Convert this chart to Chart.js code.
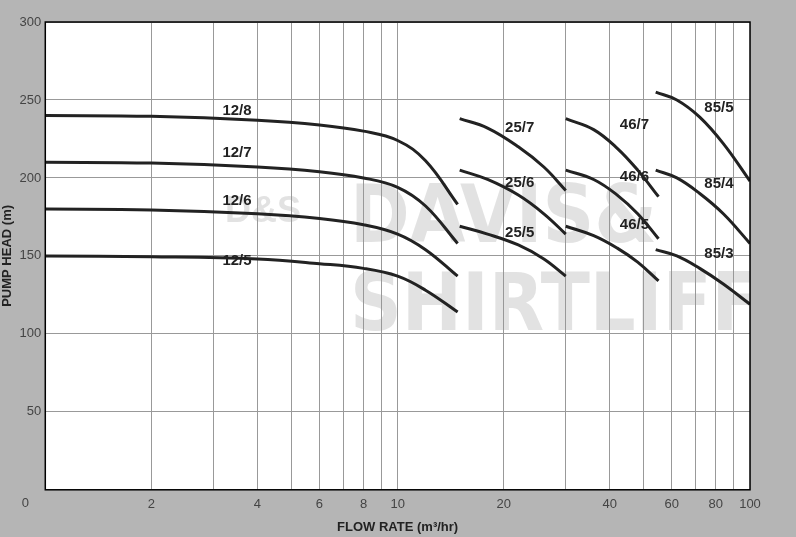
<!DOCTYPE html>
<html><head><meta charset="utf-8">
<script src="https://cdn.jsdelivr.net/npm/chart.js@4"></script>
<style>html,body{margin:0;padding:0;background:#b5b5b5}#w{width:796px;height:537px}</style>
</head><body><div id="w"><canvas id="c"></canvas></div>
<script>
const xTicks=[1,2,4,6,8,10,20,40,60,80,100];
const xTickLabels=["","2","4","6","8","10","20","40","60","80","100"];
const yTicks=[0,50,100,150,200,250,300];
const names=["12/8","12/7","12/6","12/5","25/7","25/6","25/5","46/7","46/6","46/5","85/5","85/4","85/3"];
const curveX=[
 [1,2,4,6,8,10,12,14.8],[1,2,4,6,8,10,12,14.8],[1,2,4,6,8,10,12,14.8],[1,2,4,6,8,10,12,14.8],
 [15,18,22,26,30],[15,18,22,26,30],[15,18,22,26,30],
 [30,36,42,48,55],[30,36,42,48,55],[30,36,42,48,55],
 [54,62,72,84,100],[54,62,72,84,100],[54,62,72,84,100]];
const curveY=[
 [240,239.5,237,234,230,224,211,183],
 [210,209.5,207,204,200,194,182,158],
 [180,179.5,177,174,170,164,154,137],
 [150,149.5,148,145,142,137,128,114],
 [238,232,220,207,192],[205,199,189,177,164],[169,164,157,148,137],
 [238,231,219,205,188],[205,199,189,177,161],[169,163,155,146,134],
 [255,250,239,222,198],[205,200,190,177,158],[154,150,142,132,119]];
const labelX=[3.5,3.5,3.5,3.5,22.2,22.2,22.2,47,47,47,81.6,81.6,81.6];
const labelY=[243,216,185,147,232,197,165,234,201,170,245,196,151];
const datasets=names.map((n,i)=>({label:n,data:curveX[i].map((x,j)=>({x,y:curveY[i][j]})),
 borderColor:'#222',borderWidth:3,pointRadius:0,tension:0.4,fill:false}));
const deco={id:'deco',
 beforeDraw(ch){const {ctx,chartArea:a}=ch;ctx.save();ctx.fillStyle='#fff';ctx.fillRect(a.left,a.top,a.right-a.left,a.bottom-a.top);ctx.restore();},
 beforeDatasetsDraw(ch){const ctx=ch.ctx,a=ch.chartArea;ctx.save();
  ctx.beginPath();ctx.rect(a.left,a.top,a.right-a.left,a.bottom-a.top);ctx.clip();
  ctx.fillStyle='rgba(150,150,150,0.28)';
  ctx.font='bold 80px "Liberation Sans Narrow", "DejaVu Sans Condensed", sans-serif';
  ctx.fillText('DAVIS&',350,242);ctx.fillText('SHIRTLIFF',350,330);
  ctx.font='bold 36px "Liberation Sans Narrow", sans-serif';ctx.fillText('D&S',225,222);
  ctx.restore();},
 afterDatasetsDraw(ch){const ctx=ch.ctx,sx=ch.scales.x,sy=ch.scales.y,a=ch.chartArea;ctx.save();
  ctx.fillStyle='#222';ctx.font='bold 15px "Liberation Sans", Arial, sans-serif';ctx.textAlign='center';ctx.textBaseline='middle';
  names.forEach((n,i)=>ctx.fillText(n,sx.getPixelForValue(labelX[i]),sy.getPixelForValue(labelY[i])));
  ctx.fillStyle='#444';ctx.font='13px "Liberation Sans", Arial';ctx.fillText('0',a.left-20,a.bottom+14);
  ctx.strokeStyle='#000';ctx.lineWidth=1.5;ctx.strokeRect(a.left,a.top,a.right-a.left,a.bottom-a.top);
  ctx.restore();}};
new Chart(document.getElementById('c'),{type:'line',data:{datasets},plugins:[deco],
 options:{responsive:true,maintainAspectRatio:false,animation:false,
  layout:{padding:{left:0,right:46,top:22,bottom:2}},
  plugins:{legend:{display:false},tooltip:{enabled:false}},
  scales:{
   x:{type:'logarithmic',min:1,max:100,
    afterBuildTicks(s){const t=[{value:1}];for(let v=2;v<=10;v++)t.push({value:v});for(let v=20;v<=100;v+=10)t.push({value:v});s.ticks=t;},
    ticks:{color:'#444',font:{size:13,family:'"Liberation Sans", Arial'},autoSkip:false,maxRotation:0,padding:7,
     callback(v){const i=xTicks.indexOf(v);return i<0?'':xTickLabels[i];}},
    grid:{color:'#999',lineWidth:1,drawTicks:false},border:{display:false},
    title:{display:true,text:'FLOW RATE (m³/hr)',color:'#222',font:{size:13,weight:'bold',family:'"Liberation Sans", Arial'},padding:{top:0,bottom:0}}},
   y:{min:0,max:300,afterBuildTicks(s){s.ticks=yTicks.map(v=>({value:v}));},
    ticks:{color:'#444',font:{size:13,family:'"Liberation Sans", Arial'},padding:4,callback:v=>v===0?'':v},
    grid:{color:'#999',lineWidth:1,drawTicks:false},border:{display:false},
    title:{display:true,text:'PUMP HEAD (m)',color:'#222',font:{size:13,weight:'bold',family:'"Liberation Sans", Arial'},padding:0}}}}});
</script></body></html>
